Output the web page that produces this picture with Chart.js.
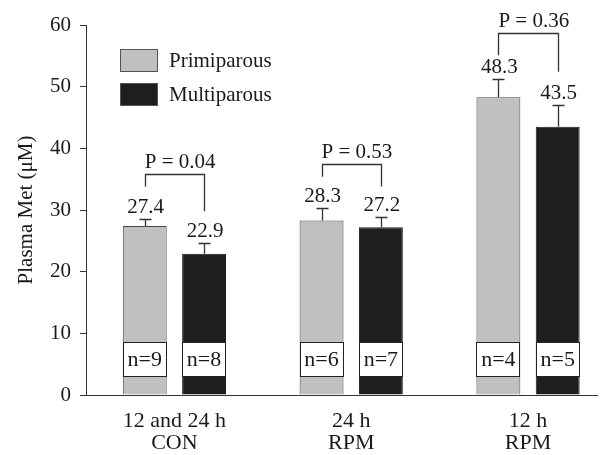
<!DOCTYPE html>
<html><head><meta charset="utf-8">
<script src="https://cdn.jsdelivr.net/npm/chart.js@4"></script>
<style>html,body{margin:0;padding:0;background:#fff;overflow:hidden;} #wrap{width:600px;height:455px;}</style>
</head><body><div id="wrap"><canvas id="c" width="600" height="455"></canvas></div>
<script>
const categories = [["12 and 24 h", "CON"], ["24 h", "RPM"], ["12 h", "RPM"]];
const seriesNames = ["Primiparous", "Multiparous"];
const primiparous = [27.4, 28.3, 48.3];
const multiparous = [22.9, 27.2, 43.5];
const primiparousSE = [1.1, 2.0, 2.9];
const multiparousSE = [1.7, 1.6, 3.5];
const primiparousN = [9, 6, 4];
const multiparousN = [8, 7, 5];
const pValues = ["0.04", "0.53", "0.36"];
const bracketTop = [35.8, 37.4, 58.7];
const bracketLeftEnd = [33.8, 35.4, 55.1];
const bracketRightEnd = [29.8, 33.8, 52.4];
const yTicks = [0, 10, 20, 30, 40, 50, 60];

const FONT = '"Liberation Serif","Times New Roman",serif';
const TEXT = '#1a1a1a';
const LINE = '#333333';

const annot = {
  id: 'annot',
  afterDatasetsDraw(chart, args, opts) {
    const ctx = chart.ctx, y = chart.scales.y;
    const errs = [primiparousSE, multiparousSE], ns = [primiparousN, multiparousN];
    ctx.save();
    chart.data.datasets.forEach((ds, di) => {
      const meta = chart.getDatasetMeta(di);
      meta.data.forEach((bar, i) => {
        const v = ds.data[i].y;
        const top = y.getPixelForValue(v + errs[di][i]);
        const x = Math.round(bar.x) + 0.5;
        ctx.strokeStyle = LINE; ctx.lineWidth = 1.3;
        ctx.beginPath();
        ctx.moveTo(x, bar.y); ctx.lineTo(x, Math.round(top) + 0.5);
        ctx.moveTo(x - 6, Math.round(top) + 0.5); ctx.lineTo(x + 6, Math.round(top) + 0.5);
        ctx.stroke();
        ctx.fillStyle = TEXT; ctx.font = '21px ' + FONT;
        ctx.textAlign = 'center'; ctx.textBaseline = 'alphabetic';
        ctx.fillText(v.toFixed(1), bar.x + 1, top - 6);
        const b1 = Math.round(y.getPixelForValue(opts.nBoxHigh)) + 0.5;
        const b0 = Math.round(y.getPixelForValue(opts.nBoxLow)) + 0.5;
        const xl = Math.round(bar.x - bar.width / 2) + 0.5;
        const xr = Math.round(bar.x + bar.width / 2) - 0.5;
        ctx.fillStyle = '#fff';
        ctx.fillRect(xl, b1, xr - xl, b0 - b1);
        ctx.strokeStyle = '#222'; ctx.lineWidth = 1;
        ctx.strokeRect(xl, b1, xr - xl, b0 - b1);
        ctx.fillStyle = TEXT; ctx.font = '22px ' + FONT; ctx.textBaseline = 'middle';
        ctx.fillText('n=' + ns[di][i], bar.x, (b0 + b1) / 2 + 1);
      });
    });
    const m0 = chart.getDatasetMeta(0), m1 = chart.getDatasetMeta(1);
    pValues.forEach((p, i) => {
      const gx = Math.round(m0.data[i].x) + 0.5, bx = Math.round(m1.data[i].x) + 0.5;
      const t = Math.round(y.getPixelForValue(bracketTop[i])) + 0.5;
      const l = y.getPixelForValue(bracketLeftEnd[i]);
      const r = y.getPixelForValue(bracketRightEnd[i]);
      ctx.strokeStyle = LINE; ctx.lineWidth = 1.3;
      ctx.beginPath();
      ctx.moveTo(gx, l); ctx.lineTo(gx, t); ctx.lineTo(bx, t); ctx.lineTo(bx, r);
      ctx.stroke();
      ctx.fillStyle = TEXT; ctx.font = '21px ' + FONT;
      ctx.textAlign = 'left'; ctx.textBaseline = 'alphabetic';
      ctx.fillText('P = ' + p, m0.data[i].x, t - 7);
    });
    ctx.restore();
  },
  afterDraw(chart) {
    const ctx = chart.ctx, a = chart.chartArea;
    ctx.save();
    chart.data.datasets.forEach((ds, di) => {
      const bx = a.left + 34.5, by = a.top + 24.5 + di * 34;
      ctx.fillStyle = ds.backgroundColor;
      ctx.fillRect(bx, by, 37, 22);
      ctx.strokeStyle = '#555'; ctx.lineWidth = 1;
      ctx.strokeRect(bx, by, 37, 22);
      ctx.fillStyle = TEXT; ctx.font = '21px ' + FONT;
      ctx.textAlign = 'left'; ctx.textBaseline = 'middle';
      ctx.fillText(ds.label, a.left + 83, by + 12);
    });
    ctx.restore();
  }
};

new Chart(document.getElementById('c'), {
  type: 'bar',
  data: {
    datasets: [
      { label: seriesNames[0], data: primiparous.map((v, i) => ({ x: i, y: v })),
        backgroundColor: '#c0c0c0', borderColor: '#4a4a4a', borderWidth: 1, borderSkipped: 'bottom' },
      { label: seriesNames[1], data: multiparous.map((v, i) => ({ x: i, y: v })),
        backgroundColor: '#1e1e1e', borderColor: '#1e1e1e', borderWidth: 1, borderSkipped: 'bottom' }
    ]
  },
  options: {
    responsive: false, animation: false, devicePixelRatio: 1,
    categoryPercentage: 0.671, barPercentage: 0.74,
    layout: { padding: { left: 0, right: 3, top: 25, bottom: 0 } },
    plugins: {
      legend: { display: false }, tooltip: { enabled: false },
      annot: { nBoxLow: 3.1, nBoxHigh: 8.6 }
    },
    scales: {
      x: {
        type: 'linear', min: -0.5, max: 2.39, offset: false,
        afterBuildTicks(s) { s.ticks = categories.map((c, i) => ({ value: i })); },
        ticks: { callback: (v) => categories[v], font: { family: FONT, size: 22, lineHeight: 1 },
                 color: TEXT, padding: 15, maxRotation: 0, autoSkip: false },
        grid: { display: false, drawTicks: false },
        border: { display: true, color: LINE, width: 1 },
        afterFit(s) { s.height = 60; }
      },
      y: {
        min: 0, max: 60,
        afterBuildTicks(s) { s.ticks = yTicks.map(v => ({ value: v })); },
        ticks: { font: { family: FONT, size: 21 }, color: TEXT, padding: 9 },
        grid: { drawOnChartArea: false, drawTicks: true, tickLength: 6, color: LINE },
        border: { display: true, color: LINE, width: 1 },
        title: { display: true, text: 'Plasma Met (μM)', font: { family: FONT, size: 21 }, color: TEXT,
                 padding: { top: 14, bottom: 0 } },
        afterFit(s) { s.width = 86; }
      }
    }
  },
  plugins: [annot]
});
</script>
</body></html>
